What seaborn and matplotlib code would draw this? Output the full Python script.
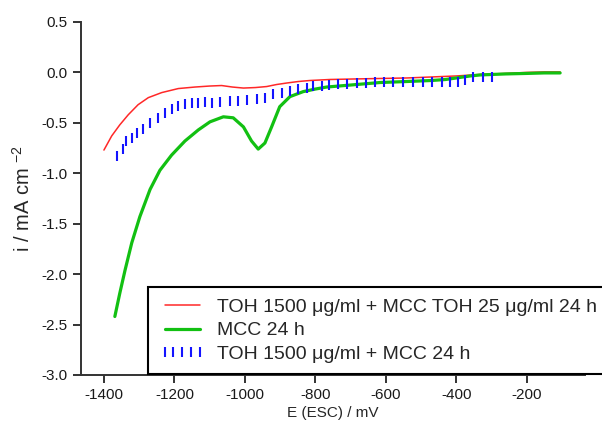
"""
Polarisation curves: TOH / MCC after 24 h
"""

import matplotlib
matplotlib.use("Agg")
import matplotlib.pyplot as plt
import pandas as pd
import seaborn as sns

# Red: TOH 1500 + MCC TOH 25, 24 h
red_e = [-1400, -1378, -1355, -1331, -1303, -1274, -1236, -1189, -1142, -1100, -1066, -1035, -1004,
         -970, -938, -910, -881, -848, -815, -758, -690, -616, -540, -470, -400, -332, -260, -200, -150, -105]
red_i = [-0.77, -0.63, -0.52, -0.42, -0.32, -0.25, -0.20, -0.16, -0.145, -0.135, -0.13, -0.145, -0.155,
         -0.15, -0.14, -0.12, -0.105, -0.09, -0.08, -0.07, -0.065, -0.06, -0.055, -0.045, -0.035, -0.02,
         -0.01, 0.00, 0.005, 0.005]

# Green: MCC 24 h
green_e = [-1369, -1355, -1340, -1321, -1298, -1269, -1241, -1208, -1170, -1132, -1099, -1061, -1033,
           -1004, -981, -962, -943, -924, -901, -872, -834, -800, -768, -700, -616, -540, -470, -430,
           -400, -360, -332, -260, -200, -150, -105]
green_i = [-2.42, -2.19, -1.96, -1.69, -1.43, -1.16, -0.97, -0.82, -0.68, -0.57, -0.49, -0.44, -0.45,
           -0.54, -0.68, -0.76, -0.70, -0.54, -0.34, -0.24, -0.19, -0.165, -0.145, -0.125, -0.10, -0.09,
           -0.08, -0.07, -0.055, -0.035, -0.025, -0.015, -0.01, -0.005, -0.005]

# Blue (bar markers): TOH 1500 + MCC 24 h
blue_e = [-1363, -1346, -1337, -1320, -1306, -1289, -1269, -1247, -1227, -1207, -1190, -1170, -1150,
          -1133, -1113, -1093, -1070, -1042, -1019, -994, -965, -943, -920, -894, -872, -849, -823,
          -806, -781, -760, -735, -710, -681, -655, -630, -605, -579, -550, -522, -495, -468, -440,
          -417, -395, -374, -352, -323, -298]
blue_i = [-0.83, -0.76, -0.68, -0.65, -0.60, -0.56, -0.50, -0.45, -0.40, -0.36, -0.33, -0.31, -0.30,
          -0.30, -0.29, -0.30, -0.29, -0.28, -0.28, -0.27, -0.26, -0.25, -0.21, -0.20, -0.18, -0.16, -0.15,
          -0.13, -0.13, -0.12, -0.11, -0.11, -0.10, -0.10, -0.09, -0.09, -0.09, -0.09, -0.09, -0.09, -0.09, -0.09,
          -0.09, -0.09, -0.08, -0.05, -0.05, -0.05]

labels = [
    "TOH 1500 \u03bcg/ml + MCC TOH 25 \u03bcg/ml 24 h",
    "MCC 24 h",
    "TOH 1500 \u03bcg/ml + MCC 24 h",
]
x_ticks = [-1400, -1200, -1000, -800, -600, -400, -200]
y_ticks = [0.5, 0.0, -0.5, -1.0, -1.5, -2.0, -2.5, -3.0]

sns.set_style("ticks")
plt.rcParams["font.family"] = ["Liberation Sans", "DejaVu Sans"]

red_df = pd.DataFrame({"E": red_e, "i": red_i})
green_df = pd.DataFrame({"E": green_e, "i": green_i})
blue_df = pd.DataFrame({"E": blue_e, "i": blue_i})

fig = plt.figure(figsize=(6.02, 4.23), dpi=100)
ax = fig.add_axes([0.1346, 0.1135, 0.8374, 0.8345])

sns.lineplot(data=red_df, x="E", y="i", ax=ax, color="#ff2828", lw=1.1, label=labels[0])
sns.lineplot(data=green_df, x="E", y="i", ax=ax, color="#12c012", lw=2.3, label=labels[1])
sns.lineplot(data=blue_df, x="E", y="i", ax=ax, color="#1414ff", linestyle="none",
             marker="|", markersize=7, markeredgewidth=1.5, markeredgecolor="#1414ff",
             markerfacecolor="#1414ff", label=labels[2])

ax.set_xlim(-1465, -34)
ax.set_ylim(-3.0, 0.5)
ax.set_xticks(x_ticks)
ax.set_yticks(y_ticks)
ax.set_xticklabels([str(t) for t in x_ticks])
ax.set_yticklabels([f"{t:.1f}" for t in y_ticks])
ax.tick_params(labelsize=11, length=6, width=1.4, colors="#333333", labelcolor="#1a1a1a")

sns.despine(ax=ax)
for side in ["left", "bottom"]:
    ax.spines[side].set_linewidth(1.4)
    ax.spines[side].set_color("#333333")

ax.set_xlabel("E (ESC) / mV", fontsize=11, labelpad=3)
ax.set_ylabel(r"i / mA cm $^{\mathregular{-2}}$", fontsize=14.5, labelpad=6)

leg = ax.legend(loc="lower left", bbox_to_anchor=(0.246, 0.116), bbox_transform=fig.transFigure,
                fontsize=14, frameon=True, fancybox=False, framealpha=1, borderaxespad=0,
                handlelength=2.4, numpoints=5, labelspacing=0.32, borderpad=0.55, handletextpad=0.57)
leg.get_frame().set_edgecolor("black")
leg.get_frame().set_linewidth(1.5)

fig.savefig("out.png", dpi=100)
